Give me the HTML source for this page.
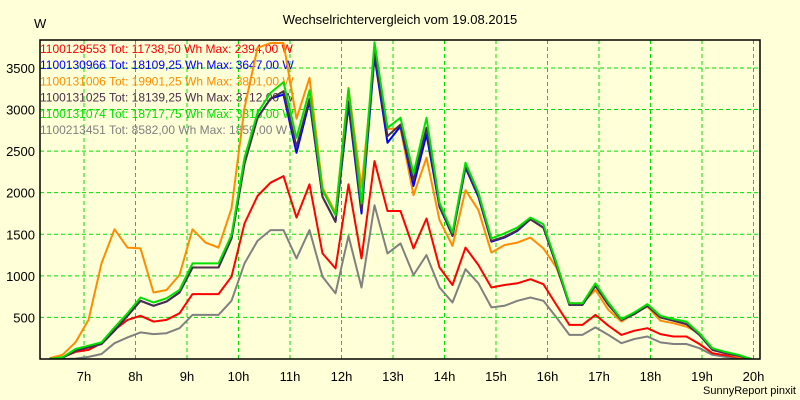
<!DOCTYPE html>
<html><head><meta charset="utf-8"><style>
html,body{margin:0;padding:0;background:#FFFFD8;}
svg{display:block;font-family:"Liberation Sans",Arial,sans-serif;}
</style></head><body>
<svg id="chart" width="800" height="400" viewBox="0 0 800 400" xmlns="http://www.w3.org/2000/svg">
<rect x="0" y="0" width="800" height="400" fill="#FFFFD8"/>
<text x="400" y="24" font-size="13" text-anchor="middle" fill="#000">Wechselrichtervergleich vom 19.08.2015</text>
<text x="34" y="28" font-size="13" fill="#000">W</text>
<text x="796" y="394" font-size="11" text-anchor="end" fill="#000">SunnyReport pinxit</text>
<g id="grid"></g>
<g id="legend"></g>
<defs><clipPath id="plotclip"><rect x="40" y="40" width="720" height="319"/></clipPath></defs>
<g id="series" clip-path="url(#plotclip)"></g>
<g id="axes"></g>
</svg>
<script>
const hourTicks = [7,8,9,10,11,12,13,14,15,16,17,18,19,20];
const yTicks = [500,1000,1500,2000,2500,3000,3500];
const seriesNames = ["1100129553","1100130966","1100131006","1100131025","1100131074","1100213451"];
const legendTexts = [
 "1100129553 Tot: 11738,50 Wh Max: 2394,00 W",
 "1100130966 Tot: 18109,25 Wh Max: 3647,00 W",
 "1100131006 Tot: 19901,25 Wh Max: 3801,00 W",
 "1100131025 Tot: 18139,25 Wh Max: 3712,00 W",
 "1100131074 Tot: 18717,75 Wh Max: 3813,00 W",
 "1100213451 Tot: 8582,00 Wh Max: 1859,00 W"];
const seriesColors = ["#FF0000","#0000FF","#FF8C00","#4B2E4B","#00E000","#808080"];
const redValues = [0,20,85,110,190,350,470,520,450,470,550,780,780,780,990,1630,1960,2120,2200,1700,2100,1270,1090,2100,1210,2380,1780,1780,1330,1690,1100,890,1340,1130,860,890,910,960,900,650,410,410,530,400,290,340,370,300,270,270,180,70,45,20,0];
const blueValues = [0,15,100,140,180,340,520,700,640,690,800,1100,1100,1100,1450,2350,2900,3130,3180,2480,3100,1950,1650,3050,1750,3640,2600,2800,2080,2700,1830,1480,2300,1950,1410,1460,1540,1680,1580,1130,650,650,880,650,470,540,640,500,460,420,290,110,70,40,0];
const orangeValues = [10,50,200,470,1150,1560,1340,1330,800,830,1010,1560,1400,1340,1810,3020,3740,3800,3800,2890,3380,2060,1760,3260,2060,3650,2770,2770,1970,2420,1670,1360,2030,1790,1280,1370,1400,1460,1330,1100,670,670,830,590,450,550,630,460,430,390,310,120,70,25,0];
const darkValues = [0,15,100,140,180,340,520,700,640,690,800,1100,1100,1100,1450,2350,2900,3130,3220,2550,3130,1950,1650,3100,1800,3700,2680,2820,2150,2780,1850,1480,2320,1970,1420,1470,1550,1680,1580,1130,650,650,880,650,470,540,640,500,460,420,290,110,70,40,0];
const greenValues = [0,20,120,160,200,380,550,740,680,730,830,1150,1150,1150,1490,2420,2960,3200,3330,2660,3230,2030,1730,3250,1870,3810,2780,2900,2230,2900,1880,1520,2360,2000,1450,1510,1580,1700,1620,1160,670,670,910,680,480,560,660,520,480,450,310,130,85,50,0];
const grayValues = [0,0,5,25,60,190,260,320,300,310,370,530,530,530,700,1150,1420,1550,1550,1210,1550,990,790,1480,860,1850,1270,1390,1010,1250,860,680,1080,910,620,640,700,740,700,500,290,290,380,290,190,240,270,200,180,180,130,50,25,10,0];
const startHour = 6.33, stepHour = 0.2524;

const NS="http://www.w3.org/2000/svg";
const L=40,R=760,T=40,B=359;
function xHour(h){return 84+(h-7)*51.5;}
function xIndex(i){return xHour(startHour+i*stepHour);}
function yVal(v){return B-v*(B-43)/3800*1.0;}
function mk(tag,attrs,parent){const e=document.createElementNS(NS,tag);for(const k in attrs)e.setAttribute(k,attrs[k]);parent.appendChild(e);return e;}
const grid=document.getElementById('grid'),axes=document.getElementById('axes'),leg=document.getElementById('legend'),ser=document.getElementById('series');
hourTicks.forEach(h=>{
 const x=xHour(h);
 const ln=mk('line',{x1:x,x2:x,y1:T,y2:B,stroke:'#00E000','stroke-dasharray':'4,3','stroke-width':1},grid);
 
 
 const t=mk('text',{x:x,y:B+22,'font-size':13,'text-anchor':'middle',fill:'#000'},axes);
 t.textContent=h+'h';
 
 
});
yTicks.forEach(v=>{
 const y=yVal(v);
 const ln=mk('line',{x1:L,x2:R,y1:y,y2:y,stroke:'#00E000','stroke-dasharray':'4,3','stroke-width':1},grid);
 
 
 const t=mk('text',{x:35,y:y+5,'font-size':13,'text-anchor':'end',fill:'#000'},axes);
 t.textContent=v;
 
 
});
const frame=mk('rect',{x:L,y:T,width:R-L,height:B-T,fill:'none',stroke:'#000','stroke-width':1.5},axes);


legendTexts.forEach((s,i)=>{
 const t=mk('text',{x:40,y:53+i*16.2,'font-size':12,fill:seriesColors[i]},leg);
 t.textContent=s;
 
 
});
const allSeries=[grayValues,redValues,orangeValues,blueValues,darkValues,greenValues];
const colorOrder=[5,0,2,1,3,4];
allSeries.forEach((vals,j)=>{
 const pts=vals.map((v,i)=>xIndex(i).toFixed(1)+','+yVal(v).toFixed(1)).join(' ');
 const p=mk('polyline',{points:pts,fill:'none',stroke:seriesColors[colorOrder[j]],'stroke-width':2,'stroke-linejoin':'round'},ser);
 
 
});
</script>
</body></html>
